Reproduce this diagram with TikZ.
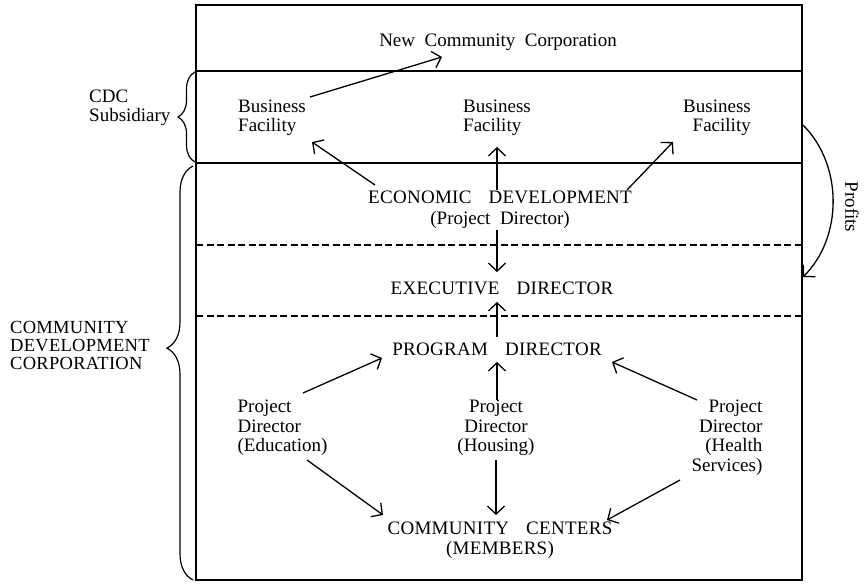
\documentclass[tikz,border=0pt]{standalone}
\usepackage{fontspec}
\setmainfont{Liberation Serif}
\newfontfamily\capsfont[LetterSpace=1.5]{Liberation Serif}
\newcommand\lcf{\normalfont\fontsize{19}{19.5}\selectfont\spaceskip=0.5em\relax}
\newcommand\ucf{\capsfont\fontsize{19}{20}\selectfont\spaceskip=0.9em\relax}
\newcommand\ucg{\capsfont\fontsize{18.5}{18}\selectfont}
\usetikzlibrary{arrows.meta,decorations.pathreplacing,calc}
\begin{document}
\begin{tikzpicture}[x=1pt,y=-1pt,
  lc/.style={font=\lcf, inner sep=0pt},
  uc/.style={font=\ucf, inner sep=0pt},
  arr/.style={line width=1.3pt, -{Straight Barb[length=8pt,width=17pt]}},
  frame/.style={line width=1.6pt},
  dashline/.style={line width=1.5pt, dash pattern=on 7pt off 3.5pt},
  bracestyle/.style={line width=1.2pt, decorate}]
\useasboundingbox (0,0) rectangle (865,585);
% frame and separators
\draw[frame] (196,5) rectangle (802,580);
\draw[frame] (196,71) -- (802,71);
\draw[frame] (196,163) -- (802,163);
\draw[dashline] (196,245) -- (802,245);
\draw[dashline] (196,316) -- (802,316);
% nodes
\node[lc] (ncc) at (498,42) {New Community Corporation};
\node[lc,align=left] (bfl) at (272,118) {Business\\Facility};
\node[lc,align=left] (bfm) at (497,118) {Business\\Facility};
\node[lc,align=right] (bfr) at (717,118) {Business\\Facility};
\node[uc,align=center] (econ) at (500,210) {ECONOMIC DEVELOPMENT\\\lcf\rule{0pt}{20pt}(Project Director)};
\node[uc] (exec) at (502,288) {EXECUTIVE DIRECTOR};
\node[uc] (prog) at (497,349) {PROGRAM DIRECTOR};
\node[lc,align=left] (edu) at (282.5,428) {Project\\Director\\(Education)};
\node[lc,align=center] (hous) at (496,428) {Project\\Director\\(Housing)};
\node[lc,align=right] (hlth) at (727,437.5) {Project\\Director\\(Health\\Services)};
\node[uc,align=center] (cc) at (500,540) {COMMUNITY CENTERS\\(MEMBERS)};
\node[lc,align=left,anchor=west] (cdc) at (89,108) {CDC\\Subsidiary};
\node[uc,align=left,anchor=west,font=\ucg] (cdcorp) at (10,345) {COMMUNITY\\DEVELOPMENT\\CORPORATION};
\node[lc,rotate=-90] (prof) at (852,207) {Profits};
% connectors
\draw[arr] ($(bfl)+(38,-21)$) -- ($(ncc)+(-56,15)$);
\draw[arr] ($(econ)+(-125,-25)$) -- ($(bfl)+(40,24)$);
\draw[arr] ($(econ)+(-3,-20)$) -- ($(bfm)+(0,29)$);
\draw[arr] ($(econ)+(127,-20)$) -- ($(bfr)+(-44,24)$);
\draw[arr] ($(econ)+(-3,20)$) -- ($(exec)+(-5,-16)$);
\draw[arr] ($(prog)+(0,-12)$) -- ($(exec)+(-5,14)$);
\draw[arr] ($(edu)+(20.5,-35)$) -- ($(prog)+(-115,9)$);
\draw[arr] ($(hous)+(1,-28)$) -- ($(prog)+(0,13)$);
\draw[arr] ($(hlth)+(-30,-37.5)$) -- ($(prog)+(115,13)$);
\draw[arr] ($(edu)+(24.5,32)$) -- ($(cc)+(-117,-25)$);
\draw[arr] ($(hous)+(0,32)$) -- ($(cc)+(-4,-25)$);
\draw[arr] ($(hlth)+(-47,42.5)$) -- ($(cc)+(107,-20)$);
% profits curve
\coordinate (pa) at (803,125);
\coordinate (pb) at (803,277);
\draw[arr] (pa) .. controls (843,165) and (843,237) .. (pb);
% braces
\draw[bracestyle, decoration={brace, amplitude=17pt}] (195,162) -- (195,72);
\draw[bracestyle, decoration={brace, amplitude=26pt, aspect=0.56}] (193,580) -- (193,166);
\end{tikzpicture}
\end{document}
